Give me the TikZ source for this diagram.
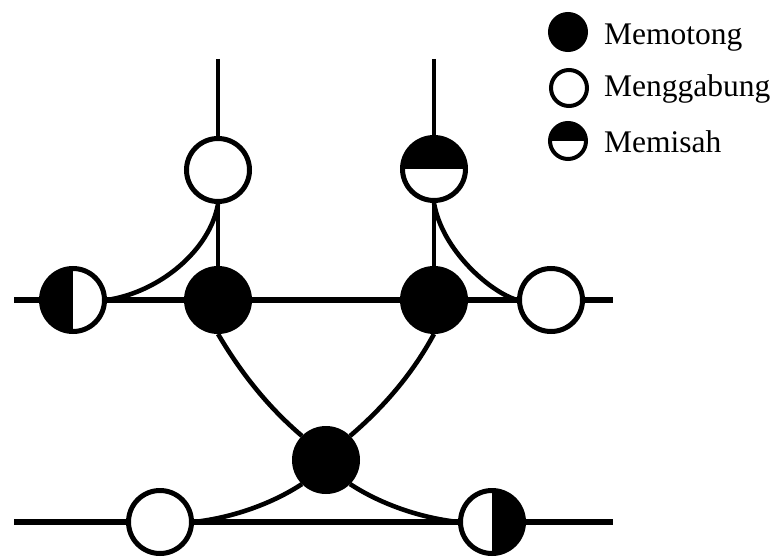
\documentclass[tikz,border=0pt]{standalone}
\usepackage{fontspec}
\setmainfont{Liberation Serif}
\tikzset{
  ln/.style={line width=4.6pt},
  hl/.style={line width=5.4pt},
  ball/.style={circle, draw, line width=5pt, inner sep=0pt, minimum size=63pt, fill=black},
  ring/.style={ball, fill=white},
  halftop/.style={ring, path picture={\fill[black] (path picture bounding box.north west) rectangle (path picture bounding box.east);}},
  halfleft/.style={ring, path picture={\fill[black] (path picture bounding box.north west) rectangle (path picture bounding box.south);}},
  halfright/.style={ring, path picture={\fill[black] (path picture bounding box.north) rectangle (path picture bounding box.south east);}},
  legball/.style={ball, line width=4pt, minimum size=36pt},
  legring/.style={legball, fill=white},
  leghalf/.style={legring, path picture={\fill[black] (path picture bounding box.north west) rectangle (path picture bounding box.east);}},
  legtext/.style={anchor=base west, inner sep=0pt, font=\fontsize{31.5}{31.5}\selectfont},
}
\begin{document}
\begin{tikzpicture}[x=1pt,y=-1pt]
\useasboundingbox (0,0) rectangle (776,559);
% nodes
\node[ring] (TL) at (218,170) {};
\node[halftop] (TR) at (434,169) {};
\node[halfleft] (LH) at (73,300) {};
\node[ball] (F1) at (218,300) {};
\node[ball] (F2) at (434,300) {};
\node[ring] (RO) at (551,300) {};
\node[ball] (B) at (326,460) {};
\node[ring] (BO) at (160,522) {};
\node[halfright] (BR) at (492,522) {};
\coordinate (tlTop) at (218,59);
\coordinate (trTop) at (434,59);
\coordinate (h1L) at (14,300);
\coordinate (h1R) at (613,300);
\coordinate (h2L) at (14,522);
\coordinate (h2R) at (613,522);
% straight lines
\draw[ln] (tlTop) -- (TL) -- (F1);
\draw[ln] (trTop) -- (TR) -- (F2);
\draw[hl] (h1L) -- (LH) -- (F1) -- (F2) -- (RO) -- (h1R);
\draw[hl] (h2L) -- (BO) -- (BR) -- (h2R);
% curves
\draw[ln] (TL.south) .. controls (210,250) and (160,292) .. (LH.east);
\draw[ln] (TR.south) .. controls (442,250) and (490,292) .. (RO.west);
\draw[ln] (F1.south) .. controls (241,373) and (268,407) .. (B.135);
\draw[ln] (F2.south) .. controls (413,373) and (384,407) .. (B.45);
\draw[ln] (B.225) .. controls (270,505) and (230,518) .. (BO.east);
\draw[ln] (B.315) .. controls (382,505) and (422,518) .. (BR.west);
% legend
\node[legball] (k1) at (568,32) {};
\node[legring] (k2) at (569,88) {};
\node[leghalf] (k3) at (568,141) {};
\node[legtext] (t1) at (604,45) {Memotong};
\node[legtext] (t2) at (604,97) {Menggabung};
\node[legtext] (t3) at (604,152) {Memisah};
\end{tikzpicture}
\end{document}
